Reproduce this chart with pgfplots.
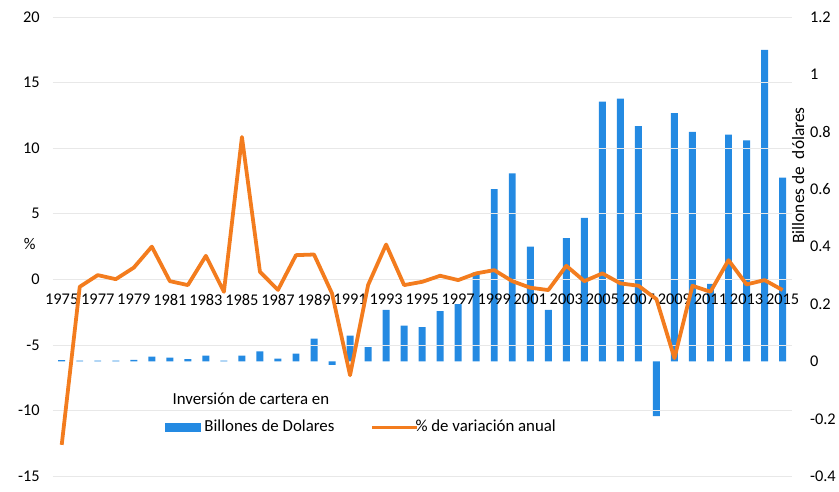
\documentclass[border=0pt]{standalone}
\usepackage{fontspec}
\setmainfont{Carlito}
\usepackage{pgfplots}
\usepackage{pgfplotstable}
\pgfplotsset{compat=1.18}

\definecolor{barblue}{RGB}{36,138,226}
\definecolor{lineorange}{RGB}{243,124,30}
\definecolor{gridgray}{RGB}{232,232,232}

% % de variacion anual
\pgfplotstableread{
year pct
1975 -12.6
1976 -0.56
1977 0.33
1978 0.02
1979 0.9
1980 2.5
1981 -0.13
1982 -0.43
1983 1.8
1984 -0.94
1985 10.85
1986 0.58
1987 -0.8
1988 1.85
1989 1.9
1990 -1.07
1991 -7.3
1992 -0.43
1993 2.66
1994 -0.43
1995 -0.18
1996 0.28
1997 -0.05
1998 0.46
1999 0.71
2000 -0.13
2001 -0.63
2002 -0.81
2003 1.04
2004 -0.13
2005 0.46
2006 -0.3
2007 -0.48
2008 -1.5
2009 -6.0
2010 -0.48
2011 -0.94
2012 1.47
2013 -0.38
2014 -0.05
2015 -0.81
}\pcttable

% inversion de cartera, billones de dolares
\pgfplotstableread{
year inv
1975 0.005
1976 0.003
1977 0.003
1978 0.003
1979 0.006
1980 0.017
1981 0.013
1982 0.008
1983 0.02
1984 0.003
1985 0.02
1986 0.035
1987 0.01
1988 0.027
1989 0.08
1990 -0.012
1991 0.09
1992 0.05
1993 0.18
1994 0.125
1995 0.12
1996 0.175
1997 0.2
1998 0.31
1999 0.60
2000 0.655
2001 0.40
2002 0.18
2003 0.43
2004 0.50
2005 0.905
2006 0.915
2007 0.82
2008 -0.19
2009 0.865
2010 0.80
2011 0.27
2012 0.79
2013 0.77
2014 1.085
2015 0.64
}\invtable

\newcommand{\chartfont}{\fontsize{16.5}{19.8}\selectfont}
\newcommand{\legfont}{\fontsize{17}{20.4}\selectfont}

\pgfplotsset{
  common/.style={
    at={(53bp,15bp)}, anchor=south west,
    scale only axis, width=743bp, height=462bp,
    xmin=1974.5, xmax=2015.5,
    axis line style={draw=none},
    major tick length=0,
    /pgf/number format/assume math mode=true,
    tick label style={font=\chartfont},
  },
}

\begin{document}
\begin{tikzpicture}
\path (0,0) rectangle (839bp,494bp);

% bars, right axis
\begin{axis}[common,
  axis x line=none,
  axis y line*=right,
  ymin=-0.4, ymax=1.2,
  ytick={-0.4,-0.2,0,0.2,0.4,0.6,0.8,1,1.2},
  yticklabel style={anchor=west, xshift=15bp},
  every axis y label/.style={at={(axis description cs:1.009,0.655)}, rotate=90, anchor=center, font=\fontsize{17.5}{21}\selectfont},
  ylabel={Billones de\ \ dólares},
  ybar, bar width=7bp,
]
\addplot[fill=barblue, draw=none] table[x=year, y=inv] {\invtable};
\end{axis}

% line, left axis
\begin{axis}[common,
  axis x line*=middle,
  axis y line*=left,
  ymin=-15, ymax=20,
  ytick={-15,-10,-5,0,5,10,15,20},
  ymajorgrids, grid style={gridgray, line width=0.8bp},
  yticklabel style={xshift=-9.5bp},
  xtick={1975,1977,...,2015},
  xticklabel style={/pgf/number format/1000 sep={}, yshift=-11bp},
  every axis y label/.style={at={(axis description cs:-0.031,0.505)}, rotate=0, anchor=center, font=\chartfont},
  ylabel={\%},
  legend style={at={(axis description cs:0.148,0.085)}, anchor=south west,
    draw=none, fill=none, font=\legfont,
    cells={anchor=base west},
    /tikz/every even column/.append style={column sep=34bp}},
  legend columns=2,
]
\addlegendimage{legend image code/.code={\fill[barblue] (0bp,0bp) rectangle (35bp,8bp);}}
\addlegendentry{\def\arraystretch{1.36}\begin{tabular}[b]{@{}l@{}}\hspace*{-30bp}Inversión de cartera en\\\hspace*{2bp}Billones de Dolares\end{tabular}}
\addplot[lineorange, line width=3.8bp, line join=round,
  legend image code/.code={\draw[lineorange, line width=3.5bp] (0bp,4bp) -- (45bp,4bp);}]
  table[x=year, y=pct] {\pcttable};
\addlegendentry{\hspace*{-5bp}\% de variación anual}
\end{axis}
\end{tikzpicture}
\end{document}
